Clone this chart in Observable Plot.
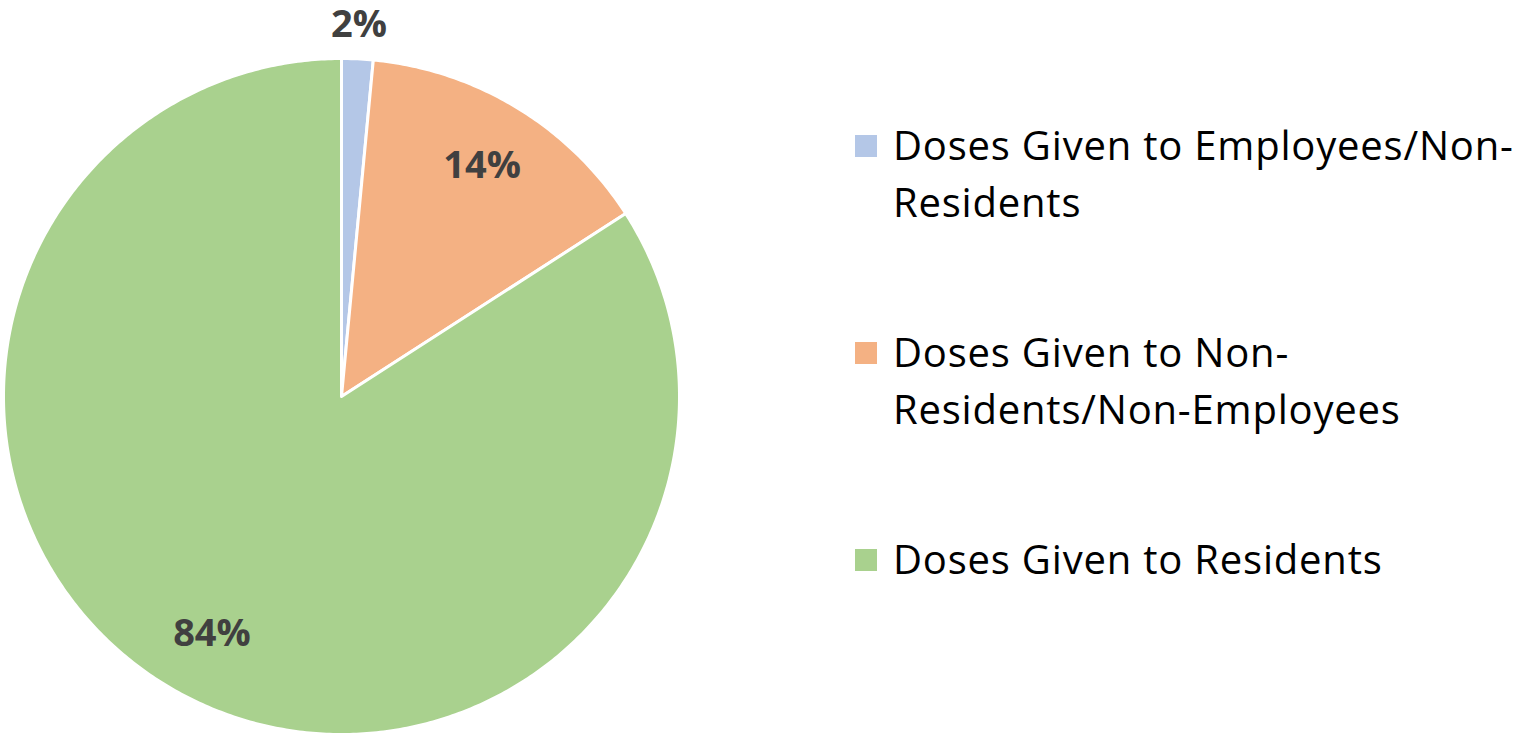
<!DOCTYPE html>
<html>
<head>
<meta charset="utf-8">
<script src="https://cdn.jsdelivr.net/npm/d3@7"></script>
<script src="https://cdn.jsdelivr.net/npm/@observablehq/plot@0.6"></script>
<style>
  html, body { margin: 0; padding: 0; background: #fff; }
  #wrap { position: relative; width: 1521px; height: 736px; font-family: "Open Sans", sans-serif; }
  .item { position: absolute; left: 855px; }
  .sw { position: absolute; left: 0; width: 22px; height: 22px; }
  .txt { position: absolute; left: 38px; font-size: 40px; line-height: 57px; letter-spacing: 0.8px; color: #000; white-space: nowrap; }
</style>
</head>
<body>
<div id="wrap"></div>
<script>
const categories = ["Doses Given to Employees/Non-Residents", "Doses Given to Non-Residents/Non-Employees", "Doses Given to Residents"];
const legendLines = [["Doses Given to Employees/Non-", "Residents"], ["Doses Given to Non-", "Residents/Non-Employees"], ["Doses Given to Residents"]];
const values = [1.5, 14.4, 84.1];
const labels = ["2%", "14%", "84%"];
const colors = ["#b4c7e7", "#f4b183", "#a9d18e"];

const total = d3.sum(values);
const slices = [];
const labelRows = [];
let acc = 0;
values.forEach((v, i) => {
  const a0 = acc / total * 2 * Math.PI;
  acc += v;
  const a1 = acc / total * 2 * Math.PI;
  const n = Math.max(2, Math.ceil((a1 - a0) / 0.01));
  slices.push({cat: categories[i], x: 0, y: 0});
  for (let k = 0; k <= n; k++) {
    const a = a0 + (a1 - a0) * k / n;
    slices.push({cat: categories[i], x: Math.sin(a), y: Math.cos(a)});
  }
  const am = (a0 + a1) / 2;
  const r = v / total < 0.05 ? 1.1 : 0.8;
  labelRows.push({label: labels[i], x: r * Math.sin(am), y: r * Math.cos(am)});
});

const cx = 341, cy = 396, R = 338;
const chart = Plot.plot({
  width: 1521,
  height: 736,
  margin: 0,
  x: {domain: [-1, 1], range: [cx - R, cx + R], axis: null},
  y: {domain: [-1, 1], range: [cy + R, cy - R], axis: null},
  color: {domain: categories, range: colors},
  marks: [
    Plot.line(slices, {x: "x", y: "y", z: "cat", fill: "cat", stroke: "white", strokeWidth: 3, curve: "linear-closed"}),
    Plot.text(labelRows, {x: "x", y: "y", text: "label", fontSize: 38, fontWeight: "bold", fill: "#404040", fontFamily: "Open Sans"})
  ]
});
chart.style.position = "absolute";
chart.style.left = "0";
chart.style.top = "0";
const wrap = document.getElementById("wrap");
wrap.appendChild(chart);

const itemTops = [116, 323, 530];
legendLines.forEach((lines, i) => {
  const item = document.createElement("div");
  item.className = "item";
  item.style.top = itemTops[i] + "px";
  const sw = document.createElement("div");
  sw.className = "sw";
  sw.style.background = colors[i];
  sw.style.top = "19px";
  item.appendChild(sw);
  const t = document.createElement("div");
  t.className = "txt";
  t.style.top = "0px";
  t.innerHTML = lines.join("<br>");
  item.appendChild(t);
  wrap.appendChild(item);
});
</script>
</body>
</html>
